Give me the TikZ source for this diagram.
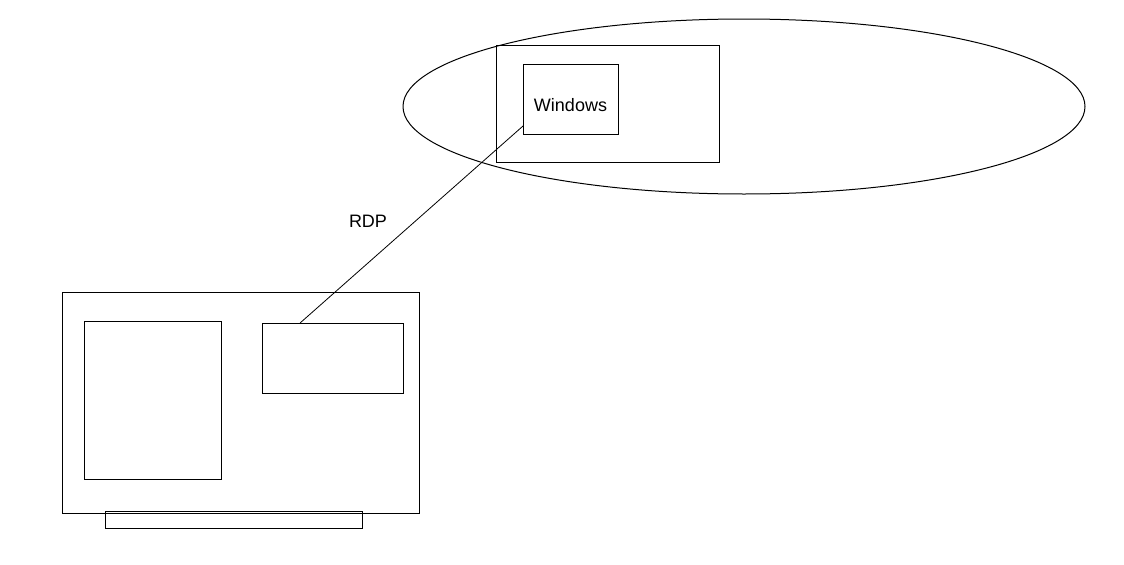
\documentclass[tikz,border=0pt]{standalone}
\usepackage{fontspec}
\setmainfont{Liberation Sans}
\usetikzlibrary{shapes.geometric,calc}
\begin{document}
\begin{tikzpicture}[x=0.75pt,y=-0.75pt,
  box/.style={draw, line width=0.75pt, rectangle, inner sep=0pt, outer sep=0pt},
  oval/.style={draw, line width=0.75pt, ellipse, inner sep=0pt, outer sep=0pt},
  lbl/.style={font=\fontsize{13.5pt}{16pt}\selectfont, inner sep=0pt},
  link/.style={draw, line width=0.6pt}]
\useasboundingbox[fill=white] (0,0) rectangle (1124,564);
% cloud
\node[oval, minimum width=511.5pt, minimum height=131.25pt] (cloud) at (744,106.5) {};
\node[box, minimum width=167.25pt, minimum height=87.75pt] (host) at (607.5,103.5) {};
\node[box, minimum width=71.25pt, minimum height=52.5pt] (win) at (570.5,99) {};
\node[lbl] (wintxt) at (570.5,105) {Windows};
% laptop
\node[box, minimum width=267.75pt, minimum height=165.75pt] (laptop) at (240.5,402.5) {};
\node[box, minimum width=102.75pt, minimum height=118.5pt] (screen) at (152.5,400) {};
\node[box, minimum width=105.75pt, minimum height=52.5pt] (client) at (332.5,358) {};
\node[box, minimum width=192.75pt, minimum height=12.75pt] (bar) at (233.5,519.5) {};
% connection
\node[lbl] (rdp) at (368,221) {RDP};
\draw[link] ($(win.south west)!0.114!(win.north west)$) -- ($(client.north west)!0.27!(client.north east)$);
\end{tikzpicture}
\end{document}
